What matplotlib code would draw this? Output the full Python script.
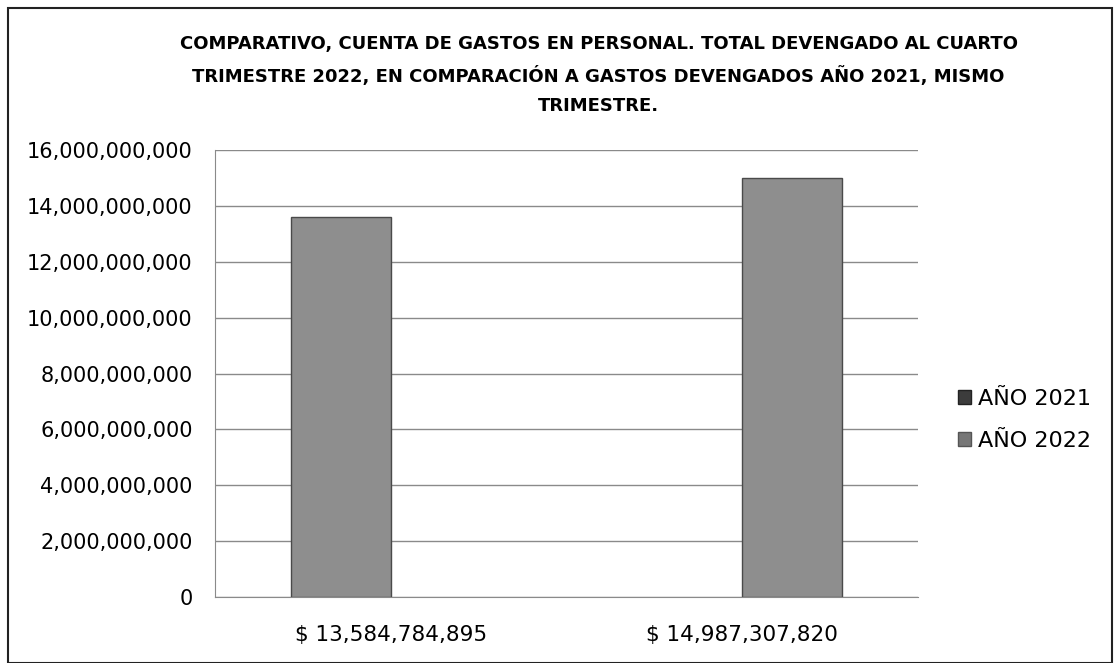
import matplotlib
matplotlib.use("Agg")
import matplotlib.pyplot as plt
from matplotlib.patches import Rectangle
import numpy as np

categories = ["$ 13,584,784,895", "$ 14,987,307,820"]
series_names = ["AÑO 2021", "AÑO 2022"]
vals_2021 = [13584784895, 0]
vals_2022 = [0, 14987307820]
yticks = np.arange(0, 16e9 + 1, 2e9)

plt.rcParams["font.family"] = ["DejaVu Sans"]

fig = plt.figure(figsize=(11.19, 6.63), dpi=100)
ax = fig.add_axes([215 / 1119, 1 - 597 / 663, (918 - 215) / 1119, (597 - 150) / 663])

x = np.arange(len(categories))
w = 0.285
# zero values hidden so no flat edge line is drawn
h21 = np.where(np.array(vals_2021) > 0, vals_2021, np.nan)
h22 = np.where(np.array(vals_2022) > 0, vals_2022, np.nan)
ax.bar(x - w / 2, h21, w, color="#8e8e8e", edgecolor="#4a4a4a", linewidth=1, label=series_names[0], zorder=3)
ax.bar(x + w / 2, h22, w, color="#8e8e8e", edgecolor="#4a4a4a", linewidth=1, label=series_names[1], zorder=3)

ax.set_xlim(-0.5, 1.5)
ax.set_ylim(0, 16e9)
ax.set_yticks(yticks)
ax.set_yticklabels([f"{int(v):,}" for v in yticks], fontsize=15)
ax.set_xticks(x)
ax.set_xticklabels(categories, fontsize=15.5)
ax.tick_params(axis="x", length=0, pad=20)
ax.tick_params(axis="y", length=0, pad=16)
ax.grid(axis="y", color="#8a8a8a", linewidth=1, zorder=0)
for s in ["top", "right"]:
    ax.spines[s].set_visible(False)
ax.spines["left"].set_color("#8a8a8a")
ax.spines["bottom"].set_color("#8a8a8a")

fig.text(0.535, 1 - 35 / 663,
         "COMPARATIVO, CUENTA DE GASTOS EN PERSONAL. TOTAL DEVENGADO AL CUARTO\n"
         "TRIMESTRE 2022, EN COMPARACIÓN A GASTOS DEVENGADOS AÑO 2021, MISMO\n"
         "TRIMESTRE.",
         ha="center", va="top", fontsize=13, fontweight="bold", linespacing=1.8)

h = [Rectangle((0, 0), 1, 1, facecolor="#3c3c3c", edgecolor="#222222"),
     Rectangle((0, 0), 1, 1, facecolor="#777777", edgecolor="#555555")]
fig.legend(h, series_names, loc="center left", bbox_to_anchor=(938 / 1119, 1 - 420 / 663),
           frameon=False, fontsize=16, handlelength=0.6, handleheight=0.6,
           handletextpad=0.3, labelspacing=1.0)

fig.add_artist(Rectangle((8 / 1119, 0), 1104 / 1119, 655 / 663, transform=fig.transFigure,
                         fill=False, edgecolor="#222222", linewidth=1.5))

fig.savefig("out.png", dpi=100)
